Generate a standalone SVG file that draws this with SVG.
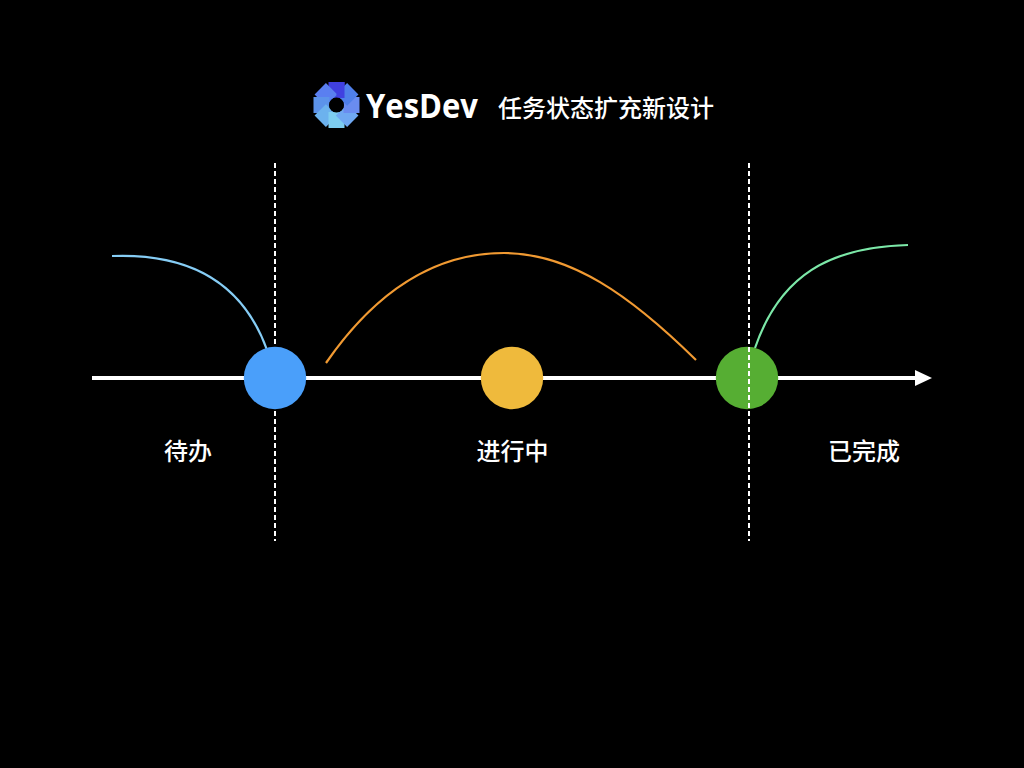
<svg xmlns="http://www.w3.org/2000/svg" width="1024" height="768" viewBox="0 0 1024 768">
<style>
.cn{font-family:"Noto Sans CJK SC","Noto Sans",sans-serif;font-size:24px;font-weight:500;fill:#fff;text-anchor:middle}
.dash{stroke:#fff;stroke-width:2;stroke-dasharray:5 3;fill:none}
.curve{fill:none;stroke-width:2.200}
</style>
<defs><rect id="petal" x="-8" y="-23" width="16" height="16"/></defs>
<rect width="1024" height="768" fill="#000"/>
<g id="logo">
<g transform="translate(336.500 105)">
<use href="#petal" fill="#4040e0"/>
<use href="#petal" fill="#5a7ff0" transform="rotate(315)"/>
<use href="#petal" fill="#5c93ea" transform="rotate(270)"/>
<use href="#petal" fill="#6cb2ee" transform="rotate(225)"/>
<use href="#petal" fill="#7dcdf0" transform="rotate(180)"/>
<use href="#petal" fill="#6fa8f2" transform="rotate(135)"/>
<use href="#petal" fill="#6a8cf0" transform="rotate(90)"/>
<use href="#petal" fill="#4f7fea" transform="rotate(45)"/>
<rect x="0" y="-23" width="8" height="16" fill="#4040e0"/>
<circle r="7.500" fill="#000"/>
</g>
</g>
<text id="brand" x="366" y="118" font-family="Open Sans,Noto Sans,sans-serif" font-size="34" font-weight="700" fill="#fff" textLength="112" lengthAdjust="spacingAndGlyphs">YesDev</text>
<text id="title" x="606" y="117" class="cn">任务状态扩充新设计</text>
<g id="connectors">
<line x1="92" y1="378" x2="916" y2="378" stroke="#fff" stroke-width="4"/>
<polygon points="915,370 932,378 915,386" fill="#fff"/>
<line class="dash" x1="275" y1="163" x2="275" y2="541"/>
<line class="dash" x1="749" y1="163" x2="749" y2="541"/>
<path class="curve" stroke="#86cdf5" d="M112 256C190 253 243 283 267 350"/>
<path class="curve" stroke="#f19a32" d="M326 363C380 285 440 253 504 253C570 253 630 295 696 360"/>
<path class="curve" stroke="#7ce8a8" d="M755 348C780 275 830 247 908 245"/>
</g>
<g id="node-todo"><circle cx="275" cy="378" r="31.200" fill="#4a9ffa"/><text class="cn" x="188" y="460">待办</text></g>
<g id="node-doing"><circle cx="512" cy="378" r="31.200" fill="#efba3c"/><text class="cn" x="512.500" y="460">进行中</text></g>
<g id="node-done"><circle cx="747" cy="378" r="31.200" fill="#56ae33"/><line class="dash" x1="749" y1="347" x2="749" y2="411"/><text class="cn" x="864" y="460">已完成</text></g>
</svg>
